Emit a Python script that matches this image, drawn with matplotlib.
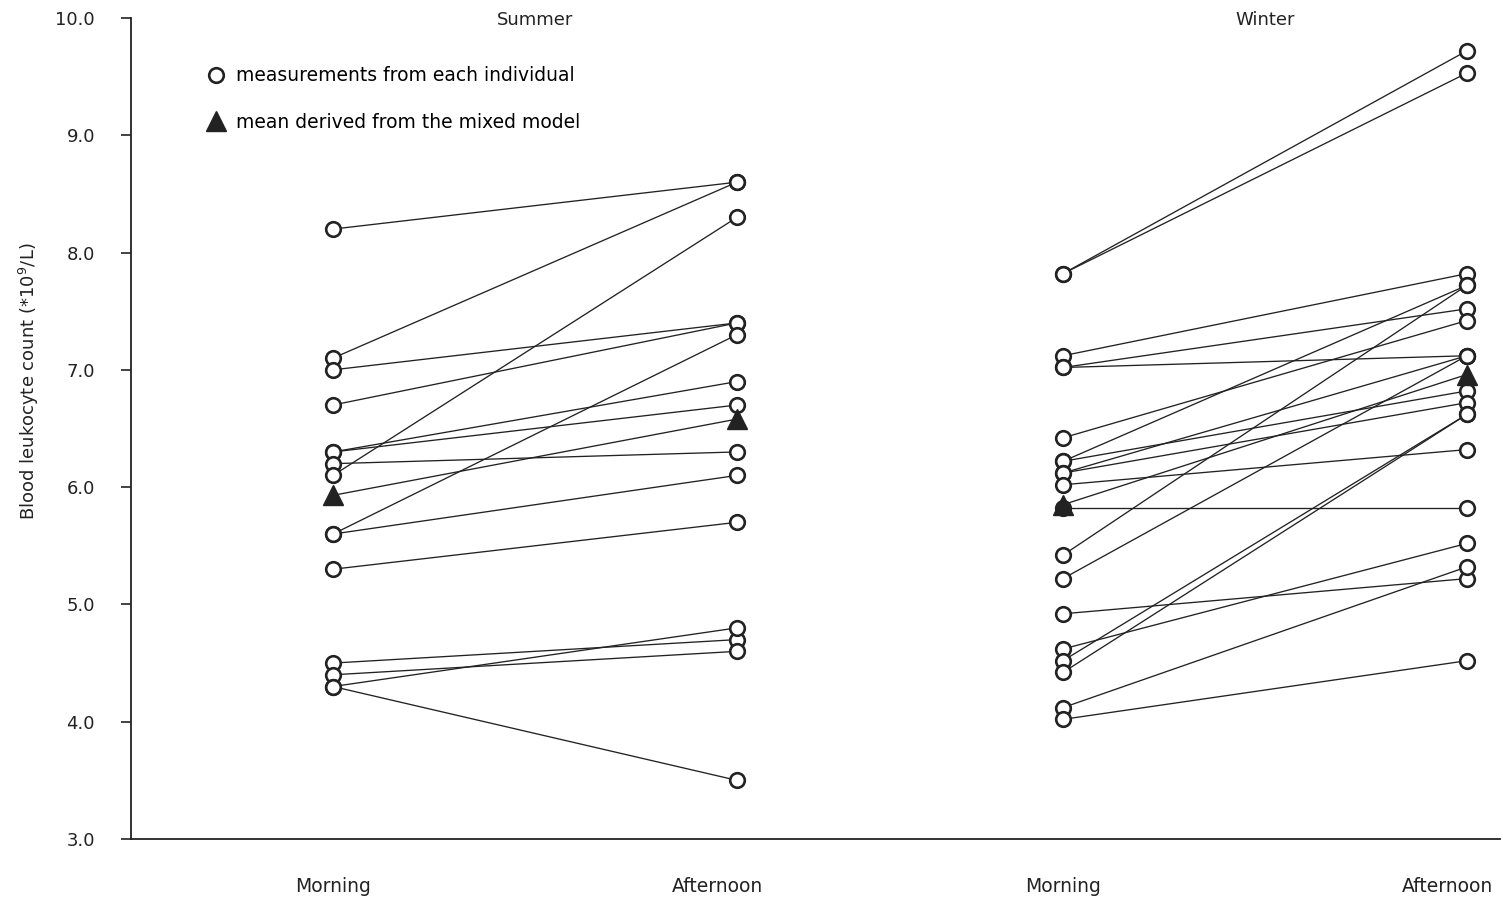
import matplotlib
matplotlib.use('Agg')
import matplotlib.pyplot as plt
from matplotlib.lines import Line2D
from matplotlib.transforms import ScaledTranslation

plt.rcParams['font.family'] = ['DejaVu Sans']

# Leukocyte counts (*10^9/L), one entry per individual, morning -> afternoon
summer_morning = [8.2, 7.1, 7.0, 6.7, 6.3, 6.3, 6.2, 6.1, 5.6, 5.6, 5.3, 4.5, 4.4, 4.3, 4.3]
summer_afternoon = [8.6, 8.6, 7.4, 7.4, 6.9, 6.7, 6.3, 8.3, 7.3, 6.1, 5.7, 4.7, 4.6, 4.8, 3.5]

winter_morning = [7.82, 7.82, 7.12, 7.02, 7.02, 6.42, 6.22, 6.22, 6.12, 6.12,
                  6.02, 5.82, 5.42, 5.22, 4.92, 4.62, 4.52, 4.42, 4.12, 4.02]
winter_afternoon = [9.72, 9.53, 7.82, 7.52, 7.12, 7.42, 7.72, 6.82, 7.12, 6.72,
                    6.32, 5.82, 7.72, 7.12, 5.22, 5.52, 6.62, 6.62, 5.32, 4.52]

# means from the mixed model
summer_mean = [5.93, 6.58]
winter_mean = [5.85, 6.96]

seasons = ['Summer', 'Winter']
times = ['Morning', 'Afternoon']
yticks = [3.0, 4.0, 5.0, 6.0, 7.0, 8.0, 9.0, 10.0]

season_x = [0.0, 1.807]  # left position of each season pair

fig = plt.figure(figsize=(15.03, 8.98), dpi=100)
ax = fig.add_axes([0.0872, 0.0657, 0.9108, 0.9143])

ink = '#222222'
data = [(summer_morning, summer_afternoon, summer_mean),
        (winter_morning, winter_afternoon, winter_mean)]

for x0, (morn, aft, mean) in zip(season_x, data):
    xs = [x0, x0 + 1]
    for a, b in zip(morn, aft):
        ax.plot(xs, [a, b], color=ink, lw=0.95, zorder=1)
    ax.plot(xs, mean, color=ink, lw=0.95, zorder=1)
    ax.plot([x0] * len(morn), morn, 'o', ms=10.5, mfc='white', mec=ink, mew=1.9,
            ls='none', zorder=2)
    ax.plot([x0 + 1] * len(aft), aft, 'o', ms=10.5, mfc='white', mec=ink, mew=1.9,
            ls='none', zorder=2)
    ax.plot(xs, mean, '^', ms=15, color=ink, mec=ink, ls='none', zorder=3)

down = ScaledTranslation(0, -0.02, fig.dpi_scale_trans)
for x0, name in zip(season_x, seasons):
    ax.text(x0 + 0.5, 10.0, name, ha='center', va='center', fontsize=13, color=ink,
            transform=ax.transData + down)

ax.set_xlim(-0.5, 2.889)
ax.set_ylim(3.0, 10.0)
ax.set_yticks(yticks)
ax.set_yticklabels(['%.1f' % v for v in yticks])
ax.set_xticks([season_x[0], season_x[0] + 1, season_x[1], season_x[1] + 1])
ax.set_xticklabels(times * 2)

ax.tick_params(axis='y', direction='out', length=7, width=1.2, colors=ink,
               labelsize=13, pad=19)
ax.tick_params(axis='x', length=0, labelsize=13.5, pad=27, colors=ink)

# afternoon labels sit a little left of their points
for lab in ax.get_xticklabels():
    if lab.get_text() == 'Afternoon':
        lab.set_transform(lab.get_transform() + ScaledTranslation(-0.19, 0, fig.dpi_scale_trans))

for side in ['top', 'right']:
    ax.spines[side].set_visible(False)
for side in ['left', 'bottom']:
    ax.spines[side].set_color(ink)
    ax.spines[side].set_linewidth(1.3)

ax.set_ylabel('Blood leukocyte count (*10$^9$/L)', fontsize=13, color=ink)
ax.yaxis.set_label_coords(-0.066, 0.558)

handles = [
    Line2D([], [], marker='o', ls='none', ms=10.5, mfc='white', mec=ink, mew=1.9),
    Line2D([], [], marker='^', ls='none', ms=15, color=ink),
]
labels = ['measurements from each individual', 'mean derived from the mixed model']
ax.legend(handles, labels, loc='upper left', bbox_to_anchor=(0.055, 0.941),
          frameon=False, fontsize=13.5, handlelength=1.0, handletextpad=0.6,
          labelspacing=1.45, borderpad=0, borderaxespad=0)

fig.savefig('out.png', dpi=100)
